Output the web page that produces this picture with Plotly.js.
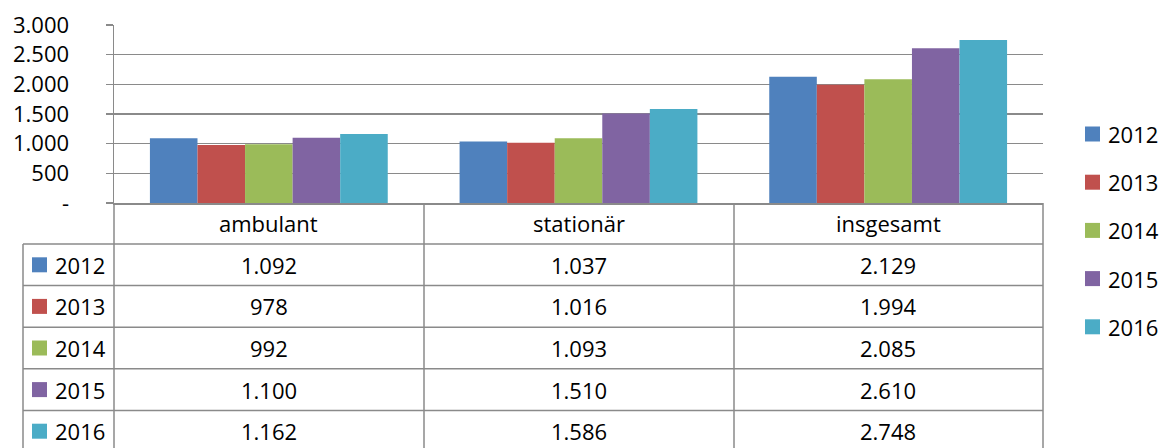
<!DOCTYPE html>
<html>
<head>
<meta charset="utf-8">
<script src="https://cdn.plot.ly/plotly-3.0.1.min.js"></script>
<style>html,body{margin:0;padding:0;background:#fff;}#chart{width:1164px;height:448px;}</style>
</head>
<body>
<div id="chart"></div>
<script>
const categories = ['ambulant', 'stationär', 'insgesamt'];
const years = ['2012', '2013', '2014', '2015', '2016'];
const values2012 = [1092, 1037, 2129];
const values2013 = [978, 1016, 1994];
const values2014 = [992, 1093, 2085];
const values2015 = [1100, 1510, 2610];
const values2016 = [1162, 1586, 2748];
const yTickVals = [0, 500, 1000, 1500, 2000, 2500, 3000];
const yTickText = ['-', '500', '1.000', '1.500', '2.000', '2.500', '3.000'];

const series = [values2012, values2013, values2014, values2015, values2016];
const colors = ['#4F81BD', '#C0504D', '#9BBB59', '#8064A2', '#4BACC6'];

const W = 1164, H = 448;
const L = 114, R = 1043, T = 25, B = 203;
const px = x => (x - L) / (R - L);
const py = y => (B - y) / (B - T);
const lineCol = '#8a8a8a';
const FONT = 'Open Sans, sans-serif';
const FS = 22;

const traces = series.map((vals, i) => ({
  type: 'bar', x: categories, y: vals, name: years[i],
  marker: {color: colors[i], line: {width: 0}},
  hoverinfo: 'x+y+name', showlegend: false
}));

const rowTop = 244, rowH = 41.6;
const shapes = [];
const annotations = [];
// horizontal table lines
for (let r = 0; r <= years.length; r++) {
  const y = rowTop + r * rowH;
  shapes.push({type: 'line', xref: 'paper', yref: 'paper', x0: px(23), x1: px(R), y0: py(y), y1: py(y), line: {color: lineCol, width: 1.5}});
}
// vertical lines
shapes.push({type: 'line', xref: 'paper', yref: 'paper', x0: px(23), x1: px(23), y0: py(rowTop), y1: py(H + 5), line: {color: lineCol, width: 1.5}});
[L, 424, 734, R].forEach(x => {
  shapes.push({type: 'line', xref: 'paper', yref: 'paper', x0: px(x), x1: px(x), y0: py(B), y1: py(H + 5), line: {color: lineCol, width: 1.5}});
});
// header
categories.forEach(c => {
  annotations.push({xref: 'x', yref: 'paper', x: c, y: py(223), text: c, showarrow: false, xanchor: 'center', yanchor: 'middle', font: {family: FONT, size: FS, color: '#000'}});
});
const fmt = v => v >= 1000 ? Math.floor(v / 1000) + '.' + String(v % 1000).padStart(3, '0') : String(v);
years.forEach((yr, i) => {
  const cy = rowTop + i * rowH + rowH / 2;
  shapes.push({type: 'rect', xref: 'paper', yref: 'paper', x0: px(32), x1: px(47), y0: py(cy - 7.5), y1: py(cy + 7.5), fillcolor: colors[i], line: {width: 0}});
  annotations.push({xref: 'paper', yref: 'paper', x: px(53), y: py(cy), text: yr, showarrow: false, xanchor: 'left', yanchor: 'middle', font: {family: FONT, size: FS, color: '#000'}});
  series[i].forEach((v, j) => {
    annotations.push({xref: 'x', yref: 'paper', x: categories[j], y: py(cy), text: fmt(v), showarrow: false, xanchor: 'center', yanchor: 'middle', font: {family: FONT, size: FS, color: '#000'}});
  });
  // right legend
  const ly = 134 + i * 48.2;
  shapes.push({type: 'rect', xref: 'paper', yref: 'paper', x0: px(1085), x1: px(1100), y0: py(ly - 7.5), y1: py(ly + 7.5), fillcolor: colors[i], line: {width: 0}});
  annotations.push({xref: 'paper', yref: 'paper', x: px(1106), y: py(ly), text: yr, showarrow: false, xanchor: 'left', yanchor: 'middle', font: {family: FONT, size: FS, color: '#000'}});
});

const layout = {
  width: W, height: H,
  margin: {l: L, r: W - R, t: T, b: H - B, pad: 0},
  paper_bgcolor: '#fff', plot_bgcolor: '#fff',
  barmode: 'group', bargap: 0.232, bargroupgap: 0,
  showlegend: false,
  font: {family: FONT, size: FS, color: '#000'},
  xaxis: {type: 'category', showticklabels: false, ticks: '', showgrid: false, zeroline: false, showline: true, linecolor: lineCol, linewidth: 1.5, fixedrange: true},
  yaxis: {range: [0, 3000], tickvals: yTickVals, ticktext: yTickText, ticks: 'outside', ticklen: 7, tickcolor: lineCol, tickwidth: 1.5,
          showgrid: true, gridcolor: lineCol, gridwidth: 1.5, zeroline: false, showline: true, linecolor: lineCol, linewidth: 1.5,
          ticklabelstandoff: 32, tickfont: {family: FONT, size: FS, color: '#000'}, fixedrange: true},
  shapes: shapes,
  annotations: annotations
};
Plotly.newPlot('chart', traces, layout, {displayModeBar: false, staticPlot: true});
</script>
</body>
</html>
